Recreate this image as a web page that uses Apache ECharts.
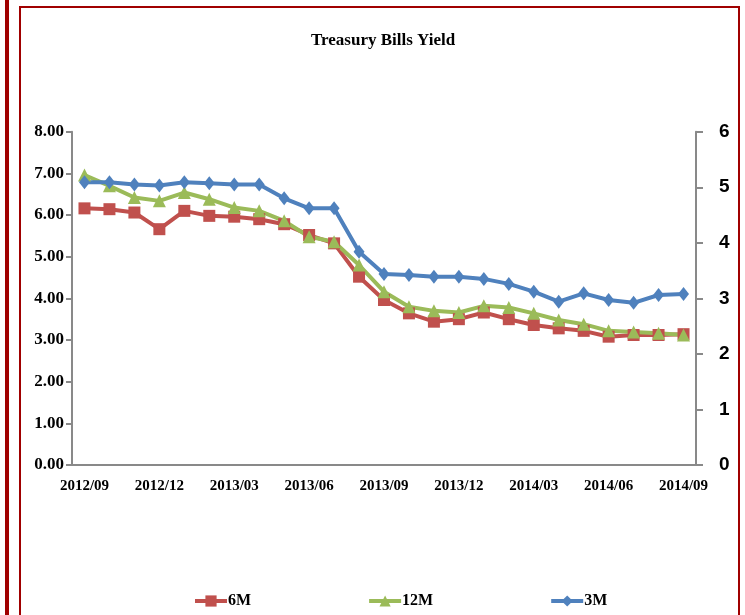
<!DOCTYPE html>
<html>
<head>
<meta charset="utf-8">
<script src="https://cdn.jsdelivr.net/npm/echarts@6/dist/echarts.min.js"></script>
<style>
  html, body { margin: 0; padding: 0; background: #fff; }
  #chart { width: 745px; height: 615px; }
</style>
</head>
<body>
<div id="chart"></div>
<script>
const months = [
  '2012/09', '2012/10', '2012/11', '2012/12', '2013/01', '2013/02', '2013/03',
  '2013/04', '2013/05', '2013/06', '2013/07', '2013/08', '2013/09', '2013/10',
  '2013/11', '2013/12', '2014/01', '2014/02', '2014/03', '2014/04', '2014/05',
  '2014/06', '2014/07', '2014/08', '2014/09'
];
// 6M and 12M on the left axis, 3M on the right axis
const sixMonth = [6.16, 6.14, 6.06, 5.66, 6.10, 5.98, 5.96, 5.90, 5.78, 5.52, 5.32, 4.52, 3.96,
  3.64, 3.44, 3.50, 3.66, 3.50, 3.36, 3.28, 3.22, 3.08, 3.12, 3.12, 3.14];
const twelveMonth = [6.96, 6.70, 6.42, 6.34, 6.54, 6.38, 6.18, 6.10, 5.86, 5.48, 5.36, 4.80, 4.16,
  3.80, 3.70, 3.66, 3.82, 3.78, 3.64, 3.48, 3.38, 3.22, 3.19, 3.16, 3.12];
const threeMonth = [5.09, 5.09, 5.05, 5.03, 5.09, 5.07, 5.05, 5.05, 4.80, 4.62, 4.62, 3.84, 3.44,
  3.42, 3.39, 3.39, 3.35, 3.26, 3.12, 2.94, 3.09, 2.97, 2.92, 3.06, 3.08];

const red = '#C0504D', green = '#9BBB59', blue = '#4F81BD';
const frame = '#A00000';
const serif = '"Liberation Serif", "Times New Roman", serif';
const axisGray = '#898989';

const chart = echarts.init(document.getElementById('chart'));

chart.setOption({
  animation: false,
  title: {
    text: 'Treasury Bills Yield',
    left: 306,
    top: 27,
    textStyle: { fontFamily: serif, fontSize: 17, fontWeight: 'bold', color: '#000' }
  },
  legend: {
    left: 193,
    top: 593,
    padding: 0,
    itemWidth: 32,
    itemHeight: 14,
    itemGap: 116,
    lineStyle: { width: 4 },
    data: ['6M', '12M', '3M'],
    textStyle: { fontFamily: serif, fontSize: 16, fontWeight: 'bold', color: '#000', padding: [0, 0, 0, -4] }
  },
  graphic: [
    { type: 'rect', shape: { x: 5, y: 0, width: 4, height: 615 }, style: { fill: frame } },
    { type: 'rect', shape: { x: 20, y: 7, width: 719, height: 630 }, style: { fill: 'none', stroke: frame, lineWidth: 2 } }
  ],
  grid: { left: 72, right: 49, top: 131.7, bottom: 150 },
  xAxis: {
    type: 'category',
    data: months,
    boundaryGap: true,
    axisLine: { lineStyle: { color: axisGray, width: 2 } },
    axisTick: { interval: 0, length: 6, lineStyle: { color: axisGray, width: 2 } },
    axisLabel: { interval: 2, margin: 14, fontFamily: serif, fontSize: 15, fontWeight: 'bold', color: '#000' },
    splitLine: { show: false }
  },
  yAxis: [
    {
      type: 'value', min: 0, max: 8, interval: 1, position: 'left',
      axisLine: { show: true, lineStyle: { color: axisGray, width: 2 } },
      axisTick: { show: true, length: 6, lineStyle: { color: axisGray, width: 2 } },
      axisLabel: {
        formatter: (v) => v.toFixed(2), margin: 8,
        fontFamily: serif, fontSize: 17, fontWeight: 'bold', color: '#000'
      },
      splitLine: { show: false }
    },
    {
      type: 'value', min: 0, max: 6, interval: 1, position: 'right',
      axisLine: { show: true, lineStyle: { color: axisGray, width: 2 } },
      axisTick: { show: true, length: 7, lineStyle: { color: axisGray, width: 2 } },
      axisLabel: {
        margin: 23,
        fontFamily: '"Liberation Sans", Arial, sans-serif', fontSize: 19, fontWeight: 'bold', color: '#000'
      },
      splitLine: { show: false }
    }
  ],
  series: [
    {
      name: '6M', type: 'line', yAxisIndex: 0, data: sixMonth,
      symbol: 'rect', symbolSize: 12,
      itemStyle: { color: red }, lineStyle: { color: red, width: 4 }
    },
    {
      name: '12M', type: 'line', yAxisIndex: 0, data: twelveMonth,
      symbol: 'triangle', symbolSize: 13,
      itemStyle: { color: green }, lineStyle: { color: green, width: 4 }
    },
    {
      name: '3M', type: 'line', yAxisIndex: 1, data: threeMonth,
      symbol: 'diamond', symbolSize: [11, 14],
      itemStyle: { color: blue }, lineStyle: { color: blue, width: 4 }
    }
  ]
});
</script>
</body>
</html>
